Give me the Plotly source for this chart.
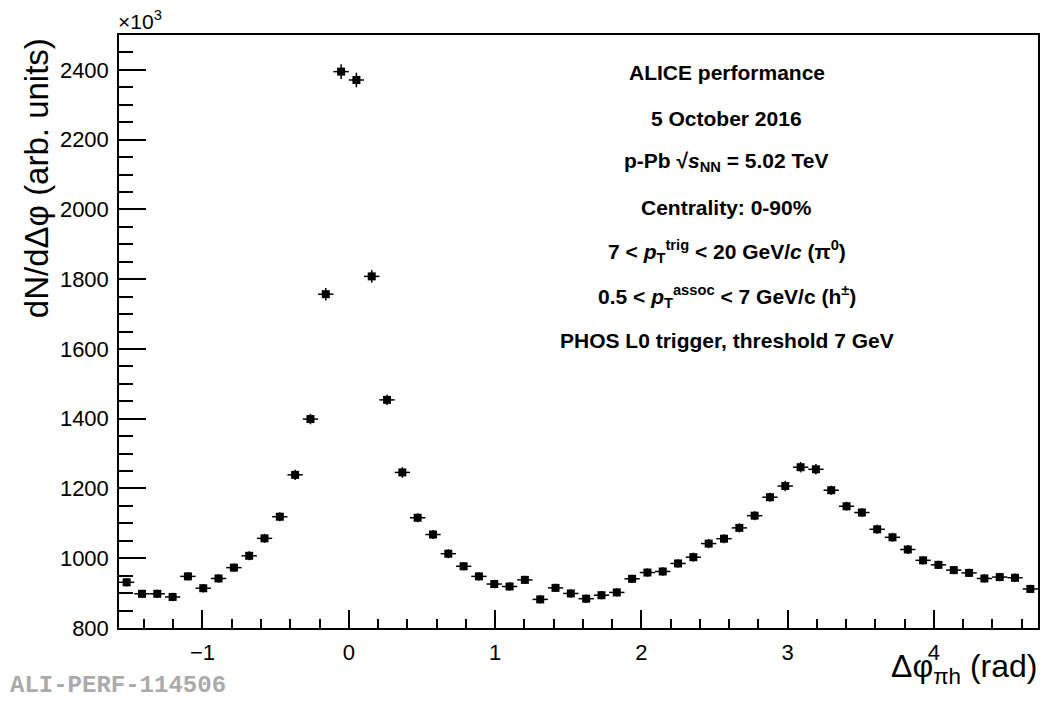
import plotly.graph_objects as go

# Bin centres of the Delta-phi histogram (60 bins from -pi/2 to 3pi/2)
dphi = [-1.5184, -1.4137, -1.3090, -1.2043, -1.0996, -0.9948, -0.8901, -0.7854, -0.6807, -0.5760,
        -0.4712, -0.3665, -0.2618, -0.1571, -0.0524, 0.0524, 0.1571, 0.2618, 0.3665, 0.4712,
        0.5760, 0.6807, 0.7854, 0.8901, 0.9948, 1.0996, 1.2043, 1.3090, 1.4137, 1.5184,
        1.6232, 1.7279, 1.8326, 1.9373, 2.0420, 2.1468, 2.2515, 2.3562, 2.4609, 2.5656,
        2.6704, 2.7751, 2.8798, 2.9845, 3.0892, 3.1940, 3.2987, 3.4034, 3.5081, 3.6128,
        3.7176, 3.8223, 3.9270, 4.0317, 4.1364, 4.2412, 4.3459, 4.4506, 4.5553, 4.6600]

# dN/dDelta-phi in units of 10^3
yield_k = [931, 898, 898, 889, 948, 914, 942, 973, 1007, 1057,
           1119, 1239, 1399, 1757, 2395, 2371, 1808, 1454, 1246, 1116,
           1068, 1013, 977, 948, 926, 919, 938, 882, 915, 899,
           884, 894, 902, 941, 959, 962, 985, 1003, 1042, 1056,
           1087, 1122, 1175, 1207, 1261, 1255, 1195, 1149, 1131, 1083,
           1060, 1025, 994, 981, 966, 958, 942, 946, 944, 912]

err_k = [12, 12, 12, 12, 12, 12, 12, 12, 13, 13,
         13, 15, 15, 18, 21, 21, 18, 15, 15, 13,
         13, 13, 12, 12, 12, 12, 12, 12, 12, 12,
         12, 12, 12, 12, 12, 12, 12, 13, 13, 13,
         13, 13, 13, 15, 15, 15, 13, 13, 13, 13,
         13, 13, 12, 12, 12, 12, 12, 12, 12, 12]

bin_half_width = 0.0524

x_range = [-1.5708, 4.7124]
y_range = [800, 2500]

info_lines = [
    "ALICE performance",
    "5 October 2016",
    "p-Pb \u221a<i>s</i><sub>NN</sub> = 5.02 TeV",
    "Centrality: 0-90%",
    "7 &lt; <i>p</i><sub>T</sub><sup>trig</sup> &lt; 20 GeV/<i>c</i> (\u03c0<sup>0</sup>)",
    "0.5 &lt; <i>p</i><sub>T</sub><sup>assoc</sup> &lt; 7 GeV/c (h<sup>\u00b1</sup>)",
    "PHOS L0 trigger, threshold 7 GeV",
]
info_y_px = [72, 119, 162, 207, 251, 296, 340]

W, H = 1043, 702
L, R, T, B = 119, 3, 35, 74
PW, PH = W - L - R, H - T - B


def px(x):
    return (x - L) / PW


def py(y):
    return (H - B - y) / PH


FONT = "Liberation Sans, Arial, Helvetica, sans-serif"

fig = go.Figure()
fig.add_trace(go.Scatter(
    x=dphi, y=yield_k, mode="markers",
    marker=dict(symbol="square", size=8, color="black"),
    error_x=dict(type="constant", value=bin_half_width, color="black", thickness=1.5, width=0),
    error_y=dict(type="data", array=err_k, color="black", thickness=1.5, width=0),
    showlegend=False,
))

axis_common = dict(
    showgrid=False, zeroline=False, showline=True, linecolor="black", linewidth=1.5,
    mirror=True, ticks="inside", tickcolor="black", tickwidth=1.5,
    tickfont=dict(family=FONT, size=22, color="black"),
)

fig.update_xaxes(range=x_range, tick0=0, dtick=1, ticklen=18,
                 minor=dict(dtick=0.2, tick0=0, ticklen=9, ticks="inside", tickcolor="black", tickwidth=1.5),
                 ticklabelstandoff=4,
                 **axis_common)
fig.update_yaxes(range=y_range, tick0=800, dtick=200, ticklen=27,
                 minor=dict(dtick=50, tick0=800, ticklen=14, ticks="inside", tickcolor="black", tickwidth=1.5),
                 ticklabelstandoff=4,
                 **axis_common)

annotations = []
for txt, yp in zip(info_lines, info_y_px):
    annotations.append(dict(text="<b>" + txt + "</b>", x=px(728), y=py(yp), xref="paper", yref="paper",
                            xanchor="center", yanchor="middle", showarrow=False,
                            font=dict(family=FONT, size=21, color="black")))

# y-axis title (aligned to top of axis, ROOT style)
annotations.append(dict(text="dN/d\u0394\u03c6 (arb. units)", textangle=-90,
                        x=px(36), y=py(36), xref="paper", yref="paper",
                        xanchor="center", yanchor="top", showarrow=False,
                        font=dict(family=FONT, size=33, color="black")))
# x-axis title
annotations.append(dict(text="\u0394\u03c6<sub>\u03c0h</sub> (rad)",
                        x=px(1041), y=py(668), xref="paper", yref="paper",
                        xanchor="right", yanchor="middle", showarrow=False,
                        font=dict(family=FONT, size=32, color="black")))
# exponent
annotations.append(dict(text="\u00d710<sup>3</sup>",
                        x=px(116), y=py(35), xref="paper", yref="paper",
                        xanchor="left", yanchor="bottom", showarrow=False,
                        font=dict(family=FONT, size=21, color="black")))
# tag
annotations.append(dict(text="<b>ALI-PERF-114506</b>",
                        x=px(8), y=py(701), xref="paper", yref="paper",
                        xanchor="left", yanchor="bottom", showarrow=False,
                        font=dict(family="Liberation Mono, Courier New, monospace", size=24, color="#aaaaaa")))

fig.update_layout(
    width=W, height=H, margin=dict(l=L, r=R, t=T, b=B, pad=0),
    paper_bgcolor="white", plot_bgcolor="white",
    annotations=annotations,
)

fig.write_html("out.html")
